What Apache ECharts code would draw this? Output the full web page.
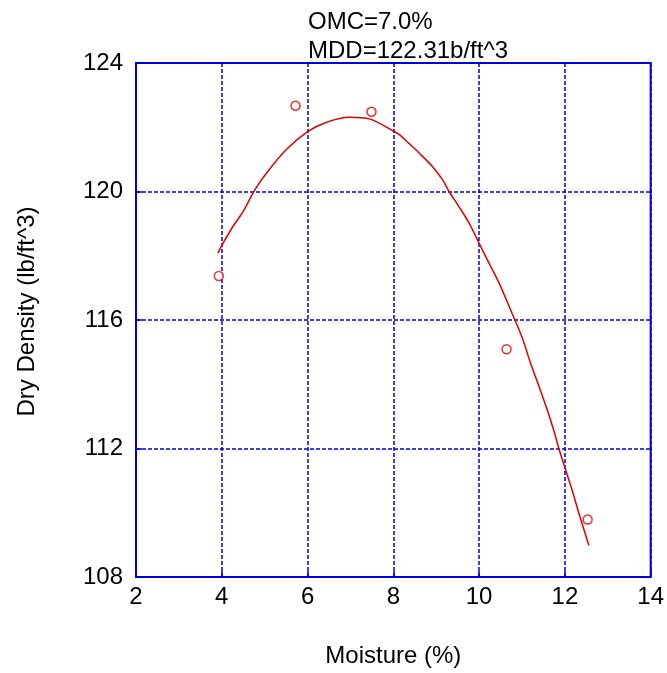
<!DOCTYPE html>
<html>
<head>
<meta charset="utf-8">
<script src="https://cdn.jsdelivr.net/npm/echarts@6/dist/echarts.min.js"></script>
<style>html,body{margin:0;padding:0;background:#fff;}#c{width:667px;height:673px;}</style>
</head>
<body>
<div id="c"></div>
<script>
// Measured points
const pointMoisture = [3.93, 5.72, 7.49, 10.64, 12.53];
const pointDensity = [117.37, 122.67, 122.48, 115.09, 109.79];
// Fitted curve
const curveMoisture = [3.91, 4.03, 4.26, 4.50, 4.77, 5.04, 5.50, 6.01, 6.43, 6.98, 7.44, 7.98, 8.14, 8.37, 8.60, 8.91, 9.15, 9.30, 9.53, 9.77, 10.00, 10.23, 10.47, 10.70, 11.01, 11.20, 11.40, 11.59, 11.74, 11.86, 12.02, 12.17, 12.33, 12.56];
const curveDensity = [118.08, 118.39, 118.91, 119.38, 120.05, 120.57, 121.30, 121.87, 122.15, 122.31, 122.26, 121.90, 121.77, 121.49, 121.20, 120.78, 120.36, 120.00, 119.53, 119.01, 118.39, 117.77, 117.14, 116.42, 115.43, 114.65, 113.92, 113.20, 112.57, 112.00, 111.32, 110.70, 109.97, 108.98];
const titleLines = ['OMC=7.0%', 'MDD=122.31b/ft^3'];
const xName = 'Moisture (%)';
const yName = 'Dry Density (lb/ft^3)';

const blue = '#0000dd';
const red = '#e00000';
const font = 'Liberation Sans, Arial, sans-serif';
const chart = echarts.init(document.getElementById('c'), null, {renderer: 'canvas'});
const splitLine = {show: true, lineStyle: {color: blue, type: [4, 2], width: 1.5}};
chart.setOption({
  animation: false,
  backgroundColor: '#fff',
  title: {
    text: titleLines.join('\n'),
    left: 303, top: 3,
    textStyle: {fontFamily: font, fontSize: 24, fontWeight: 'normal', color: '#000', lineHeight: 29}
  },
  grid: {left: 136, right: 14, top: 63, bottom: 96, show: true, borderColor: blue, borderWidth: 2, backgroundColor: 'transparent'},
  xAxis: {
    type: 'value', min: 2, max: 14, interval: 2,
    name: xName, nameLocation: 'middle', nameGap: 67,
    nameTextStyle: {fontFamily: font, fontSize: 24, color: '#000'},
    axisLine: {show: false},
    axisTick: {show: true, inside: true, length: 6, lineStyle: {color: blue, width: 1.5}},
    axisLabel: {fontFamily: font, fontSize: 24, color: '#000', margin: 8},
    splitLine: splitLine
  },
  yAxis: {
    type: 'value', min: 108, max: 124, interval: 4,
    name: yName, nameLocation: 'middle', nameGap: 97, nameRotate: 90,
    nameTextStyle: {fontFamily: font, fontSize: 24, color: '#000', padding: [0, 0, 0, 17]},
    axisLine: {show: false},
    axisTick: {show: true, inside: true, length: 6, lineStyle: {color: blue, width: 1.5}},
    axisLabel: {fontFamily: font, fontSize: 24, color: '#000', margin: 13},
    splitLine: splitLine
  },
  series: [
    {
      type: 'line',
      data: curveMoisture.map((x, i) => [x, curveDensity[i]]),
      showSymbol: false, symbol: 'none', smooth: 0.3,
      lineStyle: {color: red, width: 1.5},
      z: 3
    },
    {
      type: 'scatter',
      data: pointMoisture.map((x, i) => [x, pointDensity[i]]),
      symbol: 'circle', symbolSize: 9,
      itemStyle: {color: '#fff', borderColor: red, borderWidth: 1.5},
      z: 4
    }
  ]
});
</script>
</body>
</html>
